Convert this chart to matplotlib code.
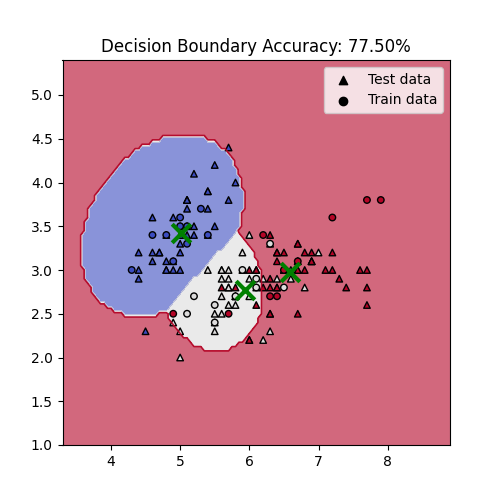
import numpy as np
import matplotlib
matplotlib.use("Agg")
import matplotlib.pyplot as plt

# Iris sepal length / width (150 samples) and species (0 setosa, 1 versicolor, 2 virginica)
sepal_length = [
    5.1, 4.9, 4.7, 4.6, 5.0, 5.4, 4.6, 5.0, 4.4, 4.9, 5.4, 4.8, 4.8, 4.3, 5.8, 5.7, 5.4, 5.1, 5.7, 5.1,
    5.4, 5.1, 4.6, 5.1, 4.8, 5.0, 5.0, 5.2, 5.2, 4.7, 4.8, 5.4, 5.2, 5.5, 4.9, 5.0, 5.5, 4.9, 4.4, 5.1,
    5.0, 4.5, 4.4, 5.0, 5.1, 4.8, 5.1, 4.6, 5.3, 5.0,
    7.0, 6.4, 6.9, 5.5, 6.5, 5.7, 6.3, 4.9, 6.6, 5.2, 5.0, 5.9, 6.0, 6.1, 5.6, 6.7, 5.6, 5.8, 6.2, 5.6,
    5.9, 6.1, 6.3, 6.1, 6.4, 6.6, 6.8, 6.7, 6.0, 5.7, 5.5, 5.5, 5.8, 6.0, 5.4, 6.0, 6.7, 6.3, 5.6, 5.5,
    5.5, 6.1, 5.8, 5.0, 5.6, 5.7, 5.7, 6.2, 5.1, 5.7,
    6.3, 5.8, 7.1, 6.3, 6.5, 7.6, 4.9, 7.3, 6.7, 7.2, 6.5, 6.4, 6.8, 5.7, 5.8, 6.4, 6.5, 7.7, 7.7, 6.0,
    6.9, 5.6, 7.7, 6.3, 6.7, 7.2, 6.2, 6.1, 6.4, 7.2, 7.4, 7.9, 6.4, 6.3, 6.1, 7.7, 6.3, 6.4, 6.0, 6.9,
    6.7, 6.9, 5.8, 6.8, 6.7, 6.7, 6.3, 6.5, 6.2, 5.9]
sepal_width = [
    3.5, 3.0, 3.2, 3.1, 3.6, 3.9, 3.4, 3.4, 2.9, 3.1, 3.7, 3.4, 3.0, 3.0, 4.0, 4.4, 3.9, 3.5, 3.8, 3.8,
    3.4, 3.7, 3.6, 3.3, 3.4, 3.0, 3.4, 3.5, 3.4, 3.2, 3.1, 3.4, 4.1, 4.2, 3.1, 3.2, 3.5, 3.6, 3.0, 3.4,
    3.5, 2.3, 3.2, 3.5, 3.8, 3.0, 3.8, 3.2, 3.7, 3.3,
    3.2, 3.2, 3.1, 2.3, 2.8, 2.8, 3.3, 2.4, 2.9, 2.7, 2.0, 3.0, 2.2, 2.9, 2.9, 3.1, 3.0, 2.7, 2.2, 2.5,
    3.2, 2.8, 2.5, 2.8, 2.9, 3.0, 2.8, 3.0, 2.9, 2.6, 2.4, 2.4, 2.7, 2.7, 3.0, 3.4, 3.1, 2.3, 3.0, 2.5,
    2.6, 3.0, 2.6, 2.3, 2.7, 3.0, 2.9, 2.9, 2.5, 2.8,
    3.3, 2.7, 3.0, 2.9, 3.0, 3.0, 2.5, 2.9, 2.5, 3.6, 3.2, 2.7, 3.0, 2.5, 2.8, 3.2, 3.0, 3.8, 2.6, 2.2,
    3.2, 2.8, 2.8, 2.7, 3.3, 3.2, 2.8, 3.0, 2.8, 3.0, 2.8, 3.8, 2.8, 2.8, 2.6, 3.0, 3.4, 3.1, 3.0, 3.1,
    3.1, 3.1, 2.7, 3.2, 3.3, 3.0, 2.5, 3.0, 3.4, 3.0]
species = [0] * 50 + [1] * 50 + [2] * 50

# 1-based sample numbers drawn as training points (circles); the rest are test points
train_ids = [1, 5, 7, 12, 14, 10, 21, 24, 41, 49,
             55, 57, 60, 62, 64, 68, 72, 81, 91, 99,
             105, 107, 110, 112, 114, 118, 124, 132, 141, 149]

# Estimated Gaussian model behind the decision regions (one component per class)
comp_means = [[5.073, 3.451], [5.722, 2.751], [7.057, 2.830]]
comp_covs = [[[0.0093, 0.0023], [0.0023, 0.0076]],
             [[0.0103, -0.0005], [-0.0005, 0.0104]],
             [[0.0647, 0.0159], [0.0159, 0.0661]]]
comp_log_weights = [13.972, 3.275, 0.0]

title_text = "Decision Boundary Accuracy: 77.50%"
legend_labels = ["Test data", "Train data"]

X = np.column_stack([sepal_length, sepal_width])
y = np.array(species)
train_mask = np.zeros(len(y), dtype=bool)
train_mask[np.array(train_ids) - 1] = True
class_means = np.array([X[y == k].mean(axis=0) for k in range(3)])

h = 0.05
x_min, x_max = X[:, 0].min() - 1, X[:, 0].max() + 1
y_min, y_max = X[:, 1].min() - 1, X[:, 1].max() + 1
xx, yy = np.meshgrid(np.arange(x_min, x_max + 1e-9, h), np.arange(y_min, y_max + 1e-9, h))
P = np.c_[xx.ravel(), yy.ravel()]
scores = []
for m, S, lw in zip(comp_means, comp_covs, comp_log_weights):
    S = np.array(S)
    d = P - np.array(m)
    q = np.einsum('ij,jk,ik->i', d, np.linalg.inv(S), d)
    scores.append(lw - 0.5 * np.log(np.linalg.det(S)) - 0.5 * q)
Z = np.argmax(np.array(scores), axis=0).reshape(xx.shape)

cw = plt.cm.coolwarm
fig, ax = plt.subplots(figsize=(5, 5), dpi=100)
ax.contourf(xx, yy, Z, levels=[-0.5, 0.5, 1.5, 2.5], colors=[cw(0.0), cw(0.5), cw(1.0)], alpha=0.6)
ax.contour(xx, yy, Z, levels=[1.5], colors=[cw(1.0)], linewidths=1.2, alpha=0.9)
ax.scatter(X[~train_mask, 0], X[~train_mask, 1], c=y[~train_mask], cmap=cw,
           vmin=0, vmax=2, marker='^', s=22, edgecolors='k')
ax.scatter(X[train_mask, 0], X[train_mask, 1], c=y[train_mask], cmap=cw,
           vmin=0, vmax=2, marker='o', s=22, edgecolors='k')
ax.scatter(class_means[:, 0], class_means[:, 1], marker='x', s=180, linewidths=3,
           color='green', zorder=5)
ax.scatter([], [], marker='^', c='k', label=legend_labels[0])
ax.scatter([], [], marker='o', c='k', label=legend_labels[1])
ax.legend(loc='upper right')
ax.set_xlim(x_min, x_max)
ax.set_ylim(y_min, y_max)
ax.set_title(title_text)
fig.savefig("out.png")
